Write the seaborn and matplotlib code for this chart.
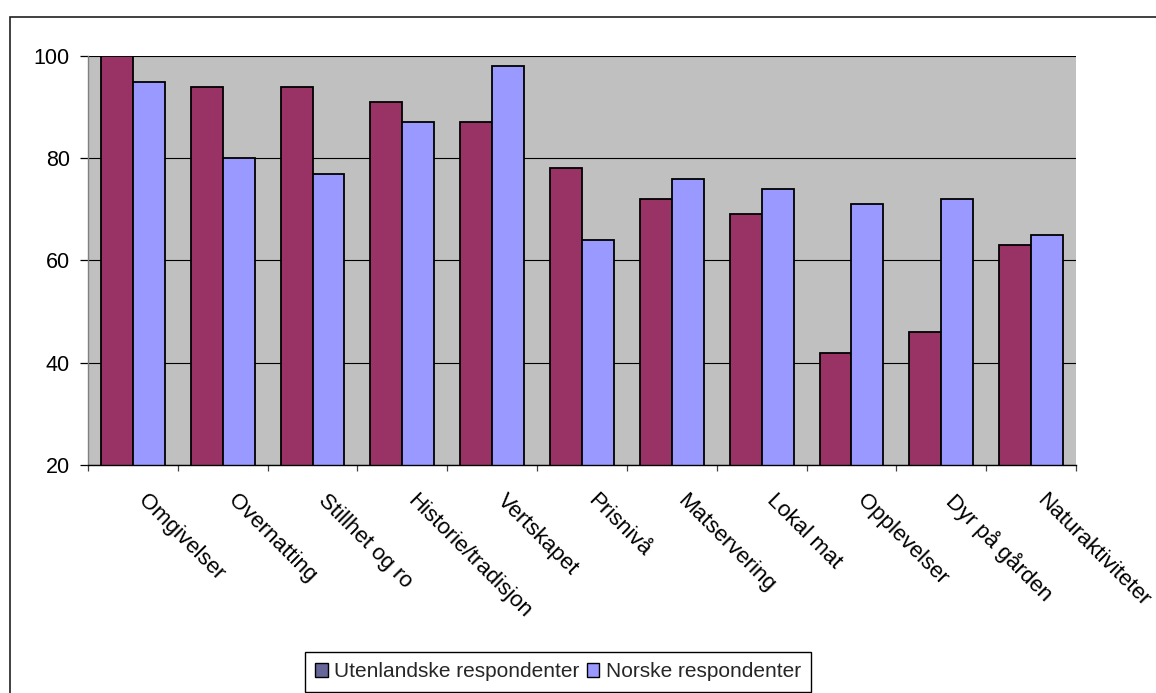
import matplotlib
matplotlib.use("Agg")
import matplotlib.pyplot as plt
from matplotlib.patches import Patch, Rectangle
from matplotlib.transforms import ScaledTranslation
from matplotlib.ticker import FixedLocator
import seaborn as sns
import pandas as pd

categories = ["Omgivelser", "Overnatting", "Stillhet og ro", "Historie/tradisjon",
              "Vertskapet", "Prisnivå", "Matservering", "Lokal mat",
              "Opplevelser", "Dyr på gården", "Naturaktiviteter"]
utenlandske = [100, 94, 94, 91, 87, 78, 72, 69, 42, 46, 63]
norske = [95, 80, 77, 87, 98, 64, 76, 74, 71, 72, 65]
series_names = ["Utenlandske respondenter", "Norske respondenter"]
y_ticks = [20, 40, 60, 80, 100]

df = pd.DataFrame({
    "kategori": categories * 2,
    "verdi": utenlandske + norske,
    "gruppe": [series_names[0]] * len(categories) + [series_names[1]] * len(categories),
})

sns.set_style("white")
plt.rcParams["font.family"] = ["Liberation Sans", "DejaVu Sans"]

W, H, DPI = 1156, 693, 100
fig = plt.figure(figsize=(W / DPI, H / DPI), dpi=DPI)
ax = fig.add_axes([88 / W, 1 - 465 / H, (1076 - 88) / W, (465 - 56) / H])

bar_colors = {series_names[0]: "#993366", series_names[1]: "#9999FF"}
sns.barplot(data=df, x="kategori", y="verdi", hue="gruppe", order=categories,
            hue_order=series_names, palette=bar_colors, width=0.71, gap=0,
            edgecolor="black", linewidth=1.3, saturation=1, ax=ax, legend=False)

ax.set_facecolor("#C0C0C0")
ax.set_ylim(20, 100)
ax.set_xlim(-0.5, len(categories) - 0.5)
ax.set_yticks(y_ticks)
ax.set_xlabel("")
ax.set_ylabel("")
ax.set_axisbelow(True)
ax.yaxis.grid(True, color="black", linewidth=0.8)
ax.xaxis.grid(False)

for side in ["top", "right"]:
    ax.spines[side].set_visible(False)
ax.spines["left"].set_color("#808080")
ax.spines["left"].set_linewidth(1.0)
ax.spines["bottom"].set_color("black")
ax.spines["bottom"].set_linewidth(1.0)

ax.tick_params(axis="y", direction="out", length=6, width=0.9, color="black",
               pad=7, labelsize=15.5, labelcolor="black", left=True)
ax.xaxis.set_minor_locator(FixedLocator([i - 0.5 for i in range(len(categories) + 1)]))
ax.tick_params(axis="x", which="minor", direction="out", length=4.5, width=0.9,
               color="#404040", bottom=True)
ax.tick_params(axis="x", which="major", length=0, pad=18, labelsize=16,
               labelcolor="black")

ax.set_xticks(range(len(categories)))
ax.set_xticklabels(categories, rotation=-45, ha="left", va="top",
                   rotation_mode="anchor")
shift = ScaledTranslation(16 / DPI, 0, fig.dpi_scale_trans)
for lbl in ax.get_xticklabels():
    lbl.set_transform(lbl.get_transform() + shift)

handles = [Patch(facecolor="#666699", edgecolor="black", linewidth=1.0),
           Patch(facecolor="#9999FF", edgecolor="black", linewidth=1.0)]
leg = fig.legend(handles, series_names, loc="upper center",
                 bbox_to_anchor=(558 / W, 1 - 652 / H), ncol=2, fontsize=15,
                 frameon=True, fancybox=False, framealpha=1, edgecolor="black",
                 handlelength=0.6, handleheight=0.6, handletextpad=0.3,
                 columnspacing=0.35, borderpad=0.5, borderaxespad=0)
leg.get_frame().set_linewidth(1.0)

fig.add_artist(Rectangle((10 / W, -0.05), 1.2, 1.05 - 17 / H,
                         transform=fig.transFigure, fill=False,
                         edgecolor="#202020", linewidth=1.2))

fig.savefig("out.png", dpi=DPI, facecolor="white")
